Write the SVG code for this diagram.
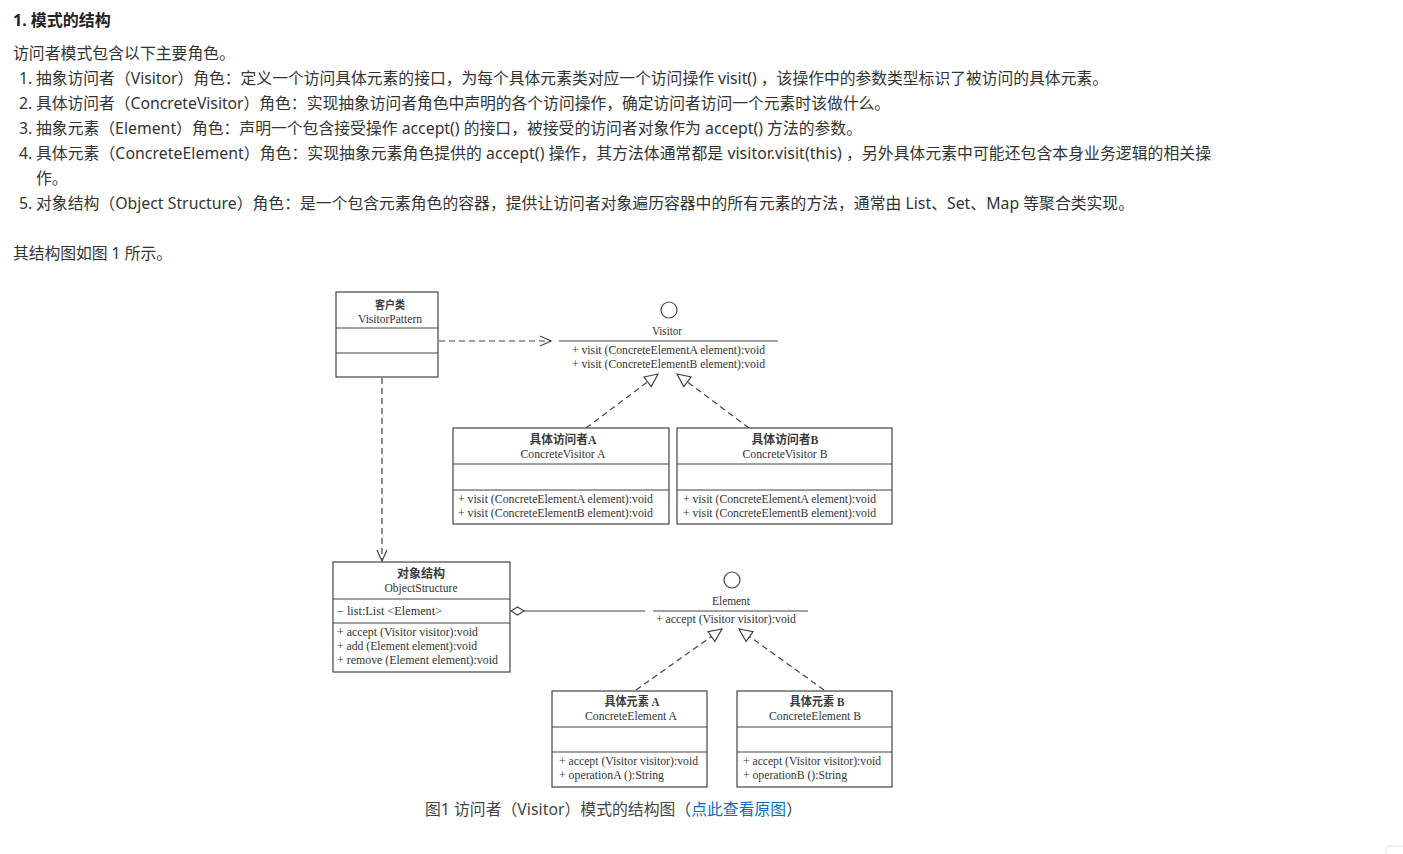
<svg xmlns="http://www.w3.org/2000/svg" width="1403" height="854" viewBox="0 0 1403 854">
<style>
.body{font-family:"Noto Sans","Noto Sans CJK SC",sans-serif;font-size:15.8px;fill:#333}
.h{font-family:"Noto Sans","Noto Sans CJK SC",sans-serif;font-size:16px;font-weight:bold;fill:#222}
.d{font-family:"Liberation Serif","Noto Sans CJK SC",serif;font-size:11.5px;fill:#333}
.dc{font-family:"Liberation Serif","Noto Sans CJK SC",serif;font-size:11.5px;fill:#333;text-anchor:middle}
.cn{font-family:"Liberation Serif","Noto Sans CJK SC",serif;font-size:12px;fill:#3a3a3a;text-anchor:middle;font-weight:bold}
.box{fill:#fff;stroke:#444;stroke-width:1.2}
.ln{stroke:#444;stroke-width:1.2;fill:none}
.dash{stroke:#444;stroke-width:1.2;fill:none;stroke-dasharray:6,4}
</style>
<defs>
<marker id="open" markerUnits="userSpaceOnUse" markerWidth="14" markerHeight="12" refX="12" refY="6" orient="auto">
<path d="M1,1 L12,6 L1,11" fill="none" stroke="#444" stroke-width="1.2"/>
</marker>
<marker id="tri" markerUnits="userSpaceOnUse" markerWidth="16" markerHeight="14" refX="14" refY="7" orient="auto">
<path d="M1,1 L14,7 L1,13 Z" fill="#fff" stroke="#444" stroke-width="1.2"/>
</marker>
<marker id="dia" markerUnits="userSpaceOnUse" markerWidth="16" markerHeight="10" refX="1" refY="5" orient="auto">
<path d="M1,5 L7.5,1 L14,5 L7.5,9 Z" fill="#fff" stroke="#444" stroke-width="1.2"/>
</marker>
</defs>
<rect width="1403" height="854" fill="#fff"/>

<g id="text">
<text class="h" x="13" y="26">1. 模式的结构</text>
<text class="body" x="13" y="59" textLength="222" lengthAdjust="spacing">访问者模式包含以下主要角色。</text>
<text class="body" x="19" y="84">1.</text>
<text class="body" x="36" y="84" textLength="1072" lengthAdjust="spacing">抽象访问者（Visitor）角色：定义一个访问具体元素的接口，为每个具体元素类对应一个访问操作 visit() ，该操作中的参数类型标识了被访问的具体元素。</text>
<text class="body" x="19" y="109">2.</text>
<text class="body" x="36" y="109" textLength="854" lengthAdjust="spacing">具体访问者（ConcreteVisitor）角色：实现抽象访问者角色中声明的各个访问操作，确定访问者访问一个元素时该做什么。</text>
<text class="body" x="19" y="134">3.</text>
<text class="body" x="36" y="134" textLength="826" lengthAdjust="spacing">抽象元素（Element）角色：声明一个包含接受操作 accept() 的接口，被接受的访问者对象作为 accept() 方法的参数。</text>
<text class="body" x="19" y="159">4.</text>
<text class="body" x="36" y="159" textLength="1175" lengthAdjust="spacing">具体元素（ConcreteElement）角色：实现抽象元素角色提供的 accept() 操作，其方法体通常都是 visitor.visit(this) ，另外具体元素中可能还包含本身业务逻辑的相关操</text>
<text class="body" x="36" y="184">作。</text>
<text class="body" x="19" y="209">5.</text>
<text class="body" x="36" y="209" textLength="1098" lengthAdjust="spacing">对象结构（Object Structure）角色：是一个包含元素角色的容器，提供让访问者对象遍历容器中的所有元素的方法，通常由 List、Set、Map 等聚合类实现。</text>
<text class="body" x="13" y="259" textLength="159" lengthAdjust="spacing">其结构图如图 1 所示。</text>
<text class="body" x="425" y="815" textLength="377" lengthAdjust="spacing" style="fill:#444">图1 访问者（Visitor）模式的结构图（<tspan fill="#0b6ec5">点此查看原图</tspan>）</text>
</g>

<g id="connectors">
<line class="dash" x1="439" y1="341" x2="551" y2="341" marker-end="url(#open)"/>
<line class="dash" x1="382" y1="378" x2="382" y2="561" marker-end="url(#open)"/>
<line class="dash" x1="586" y1="428" x2="658" y2="374" marker-end="url(#tri)"/>
<line class="dash" x1="749" y1="428" x2="677" y2="374" marker-end="url(#tri)"/>
<line class="dash" x1="636" y1="690" x2="722" y2="629" marker-end="url(#tri)"/>
<line class="dash" x1="824" y1="690" x2="739" y2="629" marker-end="url(#tri)"/>
<line class="ln" x1="511" y1="611" x2="645" y2="611" marker-start="url(#dia)"/>
</g>

<g id="client">
<rect class="box" x="336" y="292" width="102" height="85"/>
<line class="ln" x1="336" y1="328" x2="438" y2="328"/>
<line class="ln" x1="336" y1="353" x2="438" y2="353"/>
<text class="cn" x="390" y="309" textLength="30" lengthAdjust="spacingAndGlyphs" style="font-size:11px">客户类</text>
<text class="dc" x="390" y="323" textLength="64" lengthAdjust="spacingAndGlyphs">VisitorPattern</text>
</g>

<g id="visitor">
<circle cx="669" cy="310" r="8" fill="#fff" stroke="#444" stroke-width="1.2"/>
<text class="dc" x="667" y="335" textLength="30" lengthAdjust="spacingAndGlyphs">Visitor</text>
<line class="ln" x1="559" y1="341" x2="778" y2="341"/>
<text class="d" x="572" y="354" textLength="193" lengthAdjust="spacingAndGlyphs">+ visit (ConcreteElementA element):void</text>
<text class="d" x="572" y="368" textLength="193" lengthAdjust="spacingAndGlyphs">+ visit (ConcreteElementB element):void</text>
</g>

<g id="concreteVisitorA">
<rect class="box" x="453" y="428" width="216" height="96"/>
<line class="ln" x1="453" y1="464" x2="669" y2="464"/>
<line class="ln" x1="453" y1="490" x2="669" y2="490"/>
<text class="cn" x="563" y="444" textLength="67" lengthAdjust="spacingAndGlyphs">具体访问者A</text>
<text class="dc" x="563" y="458" textLength="85" lengthAdjust="spacingAndGlyphs">ConcreteVisitor A</text>
<text class="d" x="458" y="503" textLength="195" lengthAdjust="spacingAndGlyphs">+ visit (ConcreteElementA element):void</text>
<text class="d" x="458" y="517" textLength="195" lengthAdjust="spacingAndGlyphs">+ visit (ConcreteElementB element):void</text>
</g>

<g id="concreteVisitorB">
<rect class="box" x="677" y="428" width="215" height="96"/>
<line class="ln" x1="677" y1="464" x2="892" y2="464"/>
<line class="ln" x1="677" y1="490" x2="892" y2="490"/>
<text class="cn" x="785" y="444" textLength="67" lengthAdjust="spacingAndGlyphs">具体访问者B</text>
<text class="dc" x="785" y="458" textLength="85" lengthAdjust="spacingAndGlyphs">ConcreteVisitor B</text>
<text class="d" x="683" y="503" textLength="193" lengthAdjust="spacingAndGlyphs">+ visit (ConcreteElementA element):void</text>
<text class="d" x="683" y="517" textLength="193" lengthAdjust="spacingAndGlyphs">+ visit (ConcreteElementB element):void</text>
</g>

<g id="objectStructure">
<rect class="box" x="333" y="562" width="177" height="110"/>
<line class="ln" x1="333" y1="599" x2="510" y2="599"/>
<line class="ln" x1="333" y1="623" x2="510" y2="623"/>
<text class="cn" x="421" y="578" textLength="48" lengthAdjust="spacingAndGlyphs">对象结构</text>
<text class="dc" x="421" y="592" textLength="73" lengthAdjust="spacingAndGlyphs">ObjectStructure</text>
<text class="d" x="337" y="615" textLength="105" lengthAdjust="spacingAndGlyphs">− list:List &lt;Element&gt;</text>
<text class="d" x="337" y="636" textLength="141" lengthAdjust="spacingAndGlyphs">+ accept (Visitor visitor):void</text>
<text class="d" x="337" y="650" textLength="140" lengthAdjust="spacingAndGlyphs">+ add (Element element):void</text>
<text class="d" x="337" y="664" textLength="161" lengthAdjust="spacingAndGlyphs">+ remove (Element element):void</text>
</g>

<g id="element">
<circle cx="732" cy="580" r="8" fill="#fff" stroke="#444" stroke-width="1.2"/>
<text class="dc" x="731" y="605" textLength="38" lengthAdjust="spacingAndGlyphs">Element</text>
<line class="ln" x1="653" y1="611" x2="808" y2="611"/>
<text class="dc" x="726" y="623" textLength="140" lengthAdjust="spacingAndGlyphs">+ accept (Visitor visitor):void</text>
</g>

<g id="concreteElementA">
<rect class="box" x="552" y="691" width="155" height="96"/>
<line class="ln" x1="552" y1="727" x2="707" y2="727"/>
<line class="ln" x1="552" y1="752" x2="707" y2="752"/>
<text class="cn" x="632" y="706" textLength="55" lengthAdjust="spacingAndGlyphs">具体元素 A</text>
<text class="dc" x="631" y="720" textLength="92" lengthAdjust="spacingAndGlyphs">ConcreteElement A</text>
<text class="d" x="559" y="765" textLength="139" lengthAdjust="spacingAndGlyphs">+ accept (Visitor visitor):void</text>
<text class="d" x="559" y="779" textLength="105" lengthAdjust="spacingAndGlyphs">+ operationA ():String</text>
</g>

<g id="concreteElementB">
<rect class="box" x="737" y="691" width="155" height="96"/>
<line class="ln" x1="737" y1="727" x2="892" y2="727"/>
<line class="ln" x1="737" y1="752" x2="892" y2="752"/>
<text class="cn" x="817" y="706" textLength="55" lengthAdjust="spacingAndGlyphs">具体元素 B</text>
<text class="dc" x="815" y="720" textLength="92" lengthAdjust="spacingAndGlyphs">ConcreteElement B</text>
<text class="d" x="743" y="765" textLength="138" lengthAdjust="spacingAndGlyphs">+ accept (Visitor visitor):void</text>
<text class="d" x="743" y="779" textLength="104" lengthAdjust="spacingAndGlyphs">+ operationB ():String</text>
</g>

<path d="M1386,854 L1386,850 Q1386,846 1391,846 L1403,846" fill="none" stroke="#e2e2e2" stroke-width="1"/>
</svg>
